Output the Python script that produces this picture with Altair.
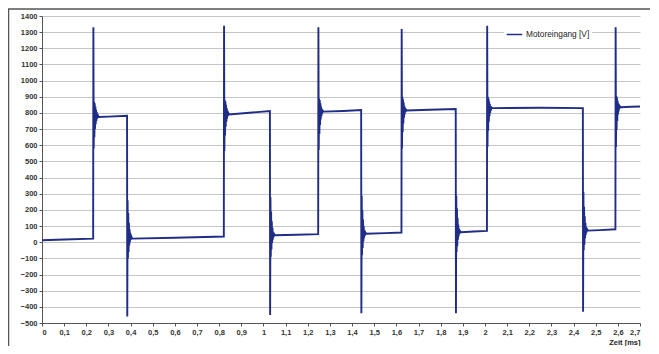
import altair as alt
import pandas as pd

SERIES = "Motoreingang [V]"

# Time [ms] and voltage [V], one row per segment/edge
time_ms = [
    0.0000, 0.1000, 0.2310,
    0.2320, 0.2335, 0.2350, 0.2365, 0.2380, 0.2395, 0.2410, 0.2425, 0.2440, 0.2455, 0.2470, 0.2485, 0.2510, 0.2550,
    0.3000, 0.3840,
    0.3850, 0.3865, 0.3880, 0.3895, 0.3910, 0.3925, 0.3940, 0.3955, 0.3970, 0.3985, 0.4000, 0.4025, 0.4070,
    0.6000, 0.8210,
    0.8220, 0.8235, 0.8250, 0.8265, 0.8280, 0.8295, 0.8310, 0.8325, 0.8340, 0.8355, 0.8370, 0.8385, 0.8410, 0.8450,
    0.9500, 1.0290,
    1.0300, 1.0315, 1.0330, 1.0345, 1.0360, 1.0375, 1.0390, 1.0405, 1.0420, 1.0435, 1.0450, 1.0475, 1.0520,
    1.1500, 1.2470,
    1.2480, 1.2495, 1.2510, 1.2525, 1.2540, 1.2555, 1.2570, 1.2585, 1.2600, 1.2615, 1.2630, 1.2645, 1.2670, 1.2710,
    1.3600, 1.4410,
    1.4420, 1.4435, 1.4450, 1.4465, 1.4480, 1.4495, 1.4510, 1.4525, 1.4540, 1.4555, 1.4570, 1.4595, 1.4640,
    1.5500, 1.6230,
    1.6240, 1.6255, 1.6270, 1.6285, 1.6300, 1.6315, 1.6330, 1.6345, 1.6360, 1.6375, 1.6390, 1.6405, 1.6430, 1.6470,
    1.7500, 1.8680,
    1.8690, 1.8705, 1.8720, 1.8735, 1.8750, 1.8765, 1.8780, 1.8795, 1.8810, 1.8825, 1.8840, 1.8865, 1.8910,
    1.9500, 2.0090,
    2.0100, 2.0115, 2.0130, 2.0145, 2.0160, 2.0175, 2.0190, 2.0205, 2.0220, 2.0235, 2.0250, 2.0265, 2.0290, 2.0330,
    2.2500, 2.4420,
    2.4430, 2.4445, 2.4460, 2.4475, 2.4490, 2.4505, 2.4520, 2.4535, 2.4550, 2.4565, 2.4580, 2.4605, 2.4650,
    2.5200, 2.5890,
    2.5900, 2.5915, 2.5930, 2.5945, 2.5960, 2.5975, 2.5990, 2.6005, 2.6020, 2.6035, 2.6050, 2.6065, 2.6090, 2.6130,
    2.6600, 2.7000,
]
voltage_v = [
    12, 17, 22,
    1330, 580, 870, 650, 860, 700, 840, 730, 820, 750, 805, 765, 792, 775,
    777, 783,
    -460, 260, -100, 180, -60, 120, -20, 80, 0, 55, 15, 38, 22,
    28, 35,
    1340, 565, 880, 660, 870, 715, 850, 745, 830, 765, 815, 780, 800, 790,
    803, 812,
    -450, 278, -90, 190, -45, 130, -5, 90, 15, 65, 30, 52, 43,
    46, 50,
    1330, 570, 890, 670, 880, 725, 860, 760, 840, 780, 825, 795, 815, 808,
    812, 818,
    -440, 287, -80, 200, -35, 140, 5, 100, 25, 75, 40, 62, 52,
    56, 60,
    1320, 580, 900, 680, 885, 735, 865, 770, 845, 790, 832, 805, 822, 815,
    820, 824,
    -440, 287, -60, 210, -25, 150, 15, 110, 35, 85, 50, 72, 62,
    66, 70,
    1340, 590, 900, 690, 890, 745, 870, 780, 855, 800, 842, 815, 835, 830,
    832, 830,
    -430, 310, -50, 220, -15, 160, 25, 120, 45, 95, 60, 82, 72,
    75, 80,
    1330, 590, 905, 695, 895, 750, 875, 790, 860, 810, 848, 825, 842, 835,
    838, 840,
]

x_ticks = [0.0, 0.1, 0.2, 0.3, 0.4, 0.5, 0.6, 0.7, 0.8, 0.9, 1.0, 1.1, 1.2, 1.3,
           1.4, 1.5, 1.6, 1.7, 1.8, 1.9, 2.0, 2.1, 2.2, 2.3, 2.4, 2.5, 2.6, 2.7]
y_ticks = [-500, -400, -300, -200, -100, 0, 100, 200, 300, 400, 500, 600, 700,
           800, 900, 1000, 1100, 1200, 1300, 1400]

df = pd.DataFrame({"t": time_ms, "u": voltage_v, "s": SERIES})

FONT = "Liberation Sans"
LINE_COLOR = "#1f2d86"

line = alt.Chart(df).mark_line(strokeWidth=1.9, strokeJoin="miter").encode(
    x=alt.X(
        "t:Q",
        scale=alt.Scale(domain=[0, 2.7], nice=False, zero=False),
        axis=alt.Axis(
            values=x_ticks,
            labelExpr="replace(format(datum.value, '.1~f'), '.', ',')",
            title="Zeit [ms]",
            titleAnchor="end",
            titleAlign="right",
            titleBaseline="alphabetic",
            titleX=598,
            titleY=21.5,
            titleFontSize=7.5,
            titleFontWeight="bold",
            titleColor="#222",
            titleFont=FONT,
            grid=False,
            labelFontSize=7.5,
            labelFontWeight="bold",
            labelColor="#333",
            labelFont=FONT,
            labelPadding=2,
            labelOverlap=False,
            domainColor="#555",
            tickColor="#555",
            tickSize=3,
        ),
    ),
    y=alt.Y(
        "u:Q",
        scale=alt.Scale(domain=[-500, 1400], nice=False, zero=False),
        axis=alt.Axis(
            values=y_ticks,
            format="d",
            title=None,
            grid=True,
            gridColor="#c6c6c6",
            gridWidth=1,
            labelFontSize=7.5,
            labelFontWeight="bold",
            labelColor="#333",
            labelFont=FONT,
            labelPadding=2,
            labelOverlap=False,
            domainColor="#555",
            tickColor="#555",
            tickSize=3,
        ),
    ),
    color=alt.Color(
        "s:N",
        scale=alt.Scale(range=[LINE_COLOR]),
        legend=alt.Legend(
            title=None,
            orient="none",
            legendX=462,
            legendY=8,
            fillColor="white",
            padding=2,
            symbolType="stroke",
            symbolStrokeWidth=1.5,
            symbolSize=240,
            labelFontSize=8.3,
            labelFont=FONT,
            labelColor="#222",
            labelOffset=3,
        ),
    ),
)

frame = alt.Chart(pd.DataFrame({"a": [0]}))
top_border = frame.mark_rule(color="#555", strokeWidth=1.5).encode(
    x=alt.value(-34), x2=alt.value(620), y=alt.value(-7)
)
left_border = frame.mark_rule(color="#555", strokeWidth=1.5).encode(
    x=alt.value(-33.5), y=alt.value(-7), y2=alt.value(340)
)

chart = alt.layer(line, top_border, left_border).properties(
    width=598,
    height=307,
    padding={"left": 34, "top": 8, "right": 10, "bottom": 23},
    autosize=alt.AutoSizeParams(type="none"),
    background="white",
).configure_view(stroke=None)

chart.save("out.html", embed_options={"renderer": "svg", "actions": False})
